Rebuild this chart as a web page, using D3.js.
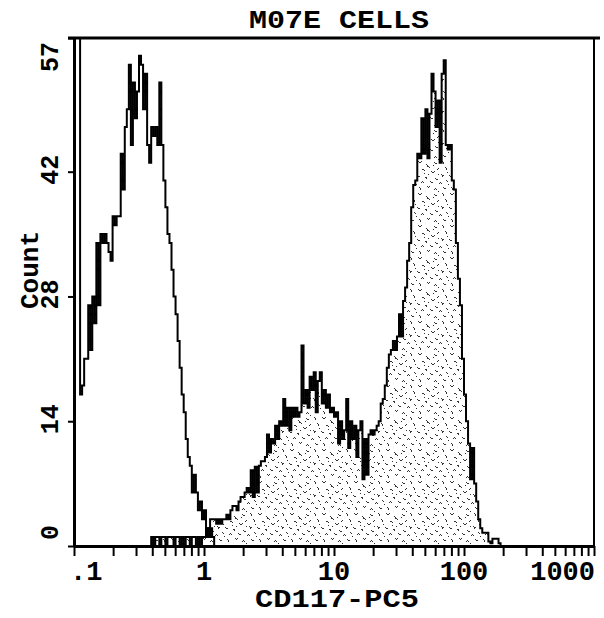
<!DOCTYPE html>
<html>
<head>
<meta charset="utf-8">
<script src="https://cdn.jsdelivr.net/npm/d3@7"></script>
<style>
  body { margin: 0; background: #fff; }
  text { font-family: "Liberation Mono", "DejaVu Sans Mono", monospace; font-weight: bold; fill: #000; }
</style>
</head>
<body>
<div id="chart"></div>
<script>
const chartTitle = "M07E CELLS";
const xTitle = "CD117-PC5";
const yTitle = "Count";
const xTickValues = [0.1, 1, 10, 100, 1000];
const xTickLabels = [".1", "1", "10", "100", "1000"];
const yTickValues = [0, 14, 28, 42, 57];
const channelsPerDecade = 64;

// control histogram (outline only), first channel = 0
const ctrlStart = 0;
const ctrlCounts = [
  57, 57, 57, 17, 18, 21, 21, 27, 22, 28,
  25, 34, 27, 35, 34, 35, 34, 33, 32, 37,
  36, 37, 37, 44, 40, 47, 49, 54, 45, 52,
  48, 51, 55, 54, 49, 53, 45, 43, 47, 46,
  47, 45, 52, 45, 41, 38, 35, 34, 31, 28,
  26, 23, 20, 17, 15, 12, 10, 9, 6, 8,
  6, 4, 5, 3, 4, 2, 1, 2, 1, 0
];

// CD117-PC5 stained histogram (stippled), first channel = 37
const cd117Start = 37;
const cd117Counts = [
  0, 1, 0, 1, 1, 0, 1, 1, 0, 1,
  1, 1, 0, 1, 1, 0, 1, 0, 1, 1,
  0, 1, 1, 0, 1, 0, 1, 1, 2, 1,
  3, 3, 3, 2.5, 3, 2.5, 3, 3, 3.5, 3,
  4, 4.5, 4.5, 4, 5, 5.5, 5.5, 6, 6.5, 6,
  8.5, 5.5, 8.9, 6, 9, 9.5, 9.5, 10, 12.5, 10.5,
  12, 11.5, 13.5, 12, 14, 13.5, 16.5, 13.5, 15.5, 13,
  15.5, 14.5, 15.5, 14.5, 15, 22.5, 16, 17.5, 15.5, 19,
  17.5, 19.5, 15, 18.5, 19.5, 16, 17.5, 15.5, 17, 15,
  15.5, 14.5, 15, 11.5, 14, 12, 13, 16.5, 11, 14,
  12, 13.5, 10, 13, 14, 7.5, 12, 8, 12.5, 13,
  12.5, 13, 13.5, 14, 16, 16.5, 18, 20, 21.5, 22,
  23, 22, 23.5, 26, 23.5, 27.5, 29, 32, 34, 38,
  40.5, 41, 44, 43.5, 48, 44, 49, 43.5, 48.5, 53,
  51, 47, 50, 43, 53, 54.5, 45, 44.5, 45, 41,
  40, 34, 30, 27, 21, 17, 14, 11.5, 7.5, 11,
  7, 5, 3, 2, 1.5, 1.5, 1.5, 0.5, 0.3, 0.8,
  0.8, 0.8, 0.3, 0
];

const width = 604, height = 618;
const plotLeft = 74, plotRight = 594, plotTop = 38, plotBottom = 546;

const svg = d3.select("#chart").append("svg")
  .attr("width", width)
  .attr("height", height)
  .style("background", "#fff");

const x = d3.scaleLog().domain([0.1, 1000]).range([plotLeft, plotRight]);
const y = d3.scaleLinear().domain([0, 57]).range([plotBottom, plotTop]).clamp(true);

const chanValue = j => 0.1 * Math.pow(10, j / channelsPerDecade);

// stipple fill like the old dot-matrix shading (little squiggles)
const dots = [
  [2,1],[3,2],[4,2],[5,1], [10,4],[11,5],[11,6],[12,6], [18,2],[19,3],[20,3],
  [26,1],[27,2],[27,3], [6,9],[7,9],[8,10], [15,11],[16,12],[17,12],[18,11],
  [21,9],[22,8], [29,7],[30,8],[30,9], [1,15],[2,16],[3,16], [9,17],[10,17],[10,18],
  [19,18],[20,19],[21,19], [25,14],[26,15],[26,16],[27,15], [5,22],[6,21],[7,22],
  [14,21],[15,22],[16,22], [23,23],[24,22],[25,23], [30,20],[31,21],
  [3,27],[4,28],[4,29], [11,26],[12,27],[13,26], [18,29],[19,28],[20,29],
  [27,27],[28,28],[29,28], [13,7],[22,14],[8,13],[17,5],[12,14],[31,12],[0,24],[22,31]
];
const pat = svg.append("defs").append("pattern")
  .attr("id", "stipple")
  .attr("patternUnits", "userSpaceOnUse")
  .attr("width", 32).attr("height", 32);
pat.append("rect").attr("width", 32).attr("height", 32).attr("fill", "#fff");
pat.selectAll("rect.d").data(dots).enter().append("rect")
  .attr("class", "d")
  .attr("x", d => d[0]).attr("y", d => d[1])
  .attr("width", 1).attr("height", 1)
  .attr("fill", "#333");

const toPoints = (start, counts) => {
  const pts = counts.map((c, i) => ({ v: chanValue(start + i), c: c }));
  pts.push({ v: chanValue(start + counts.length), c: counts[counts.length - 1] });
  return pts;
};

const outline = (start, counts) => {
  const pts = toPoints(start, counts);
  return [{ v: pts[0].v, c: 0 }].concat(pts, [{ v: pts[pts.length - 1].v, c: 0 }]);
};

const area = d3.area()
  .curve(d3.curveStepAfter)
  .x(d => x(d.v))
  .y0(plotBottom)
  .y1(d => y(d.c));

const line = d3.line()
  .curve(d3.curveStepAfter)
  .x(d => x(d.v))
  .y(d => y(d.c));

svg.append("path")
  .datum(toPoints(cd117Start, cd117Counts))
  .attr("d", area)
  .attr("fill", "url(#stipple)");

svg.append("path")
  .datum(outline(cd117Start, cd117Counts))
  .attr("d", line)
  .attr("fill", "none")
  .attr("stroke", "#000")
  .attr("stroke-width", 2);

svg.append("path")
  .datum(outline(ctrlStart, ctrlCounts))
  .attr("d", line)
  .attr("fill", "none")
  .attr("stroke", "#000")
  .attr("stroke-width", 2);

// frame
svg.append("line").attr("x1", plotLeft - 6).attr("x2", plotRight + 6).attr("y1", plotTop).attr("y2", plotTop)
  .attr("stroke", "#000").attr("stroke-width", 3);
svg.append("line").attr("x1", plotRight).attr("x2", plotRight).attr("y1", plotTop).attr("y2", plotBottom)
  .attr("stroke", "#000").attr("stroke-width", 2);

// x axis
const xAxis = svg.append("g")
  .attr("transform", `translate(0,${plotBottom})`)
  .call(d3.axisBottom(x).tickValues(x.ticks()).tickFormat("").tickSize(10).tickSizeOuter(0));
xAxis.select(".domain").attr("stroke-width", 3);
xAxis.selectAll(".tick line").attr("stroke-width", 2);

svg.selectAll("text.xlab")
  .data(xTickValues)
  .enter().append("text")
  .attr("class", "xlab")
  .attr("x", (d, i) => i === 0 ? x(d) - 4 : (i === xTickValues.length - 1 ? x(d) + 1 : x(d)))
  .attr("y", 580)
  .attr("text-anchor", (d, i) => i === 0 ? "start" : (i === xTickValues.length - 1 ? "end" : "middle"))
  .style("font-size", "27px")
  .text((d, i) => xTickLabels[i]);

// y axis
const yAxis = svg.append("g")
  .attr("transform", `translate(${plotLeft},0)`)
  .call(d3.axisLeft(y).tickValues(yTickValues).tickFormat("").tickSize(6).tickSizeOuter(0));
yAxis.select(".domain").attr("stroke-width", 3);
yAxis.selectAll(".tick line").attr("stroke-width", 2);

svg.selectAll("text.ylab")
  .data(yTickValues)
  .enter().append("text")
  .attr("class", "ylab")
  .attr("transform", d => `translate(58,${y(d)}) rotate(-90)`)
  .attr("x", (d, i) => i === 0 ? 6 : (i === yTickValues.length - 1 ? -4 : 2))
  .attr("text-anchor", (d, i) => i === 0 ? "start" : (i === yTickValues.length - 1 ? "end" : "middle"))
  .style("font-size", "25px")
  .text(d => d);

// titles
svg.append("text")
  .attr("x", 339).attr("y", 28)
  .attr("text-anchor", "middle")
  .attr("textLength", 180)
  .attr("lengthAdjust", "spacingAndGlyphs")
  .style("font-size", "26px")
  .text(chartTitle);

svg.append("text")
  .attr("x", 337).attr("y", 607)
  .attr("text-anchor", "middle")
  .attr("textLength", 164)
  .attr("lengthAdjust", "spacingAndGlyphs")
  .style("font-size", "25px")
  .text(xTitle);

svg.append("text")
  .attr("transform", "translate(38,270) rotate(-90)")
  .attr("text-anchor", "middle")
  .style("font-size", "26px")
  .text(yTitle);
</script>
</body>
</html>
